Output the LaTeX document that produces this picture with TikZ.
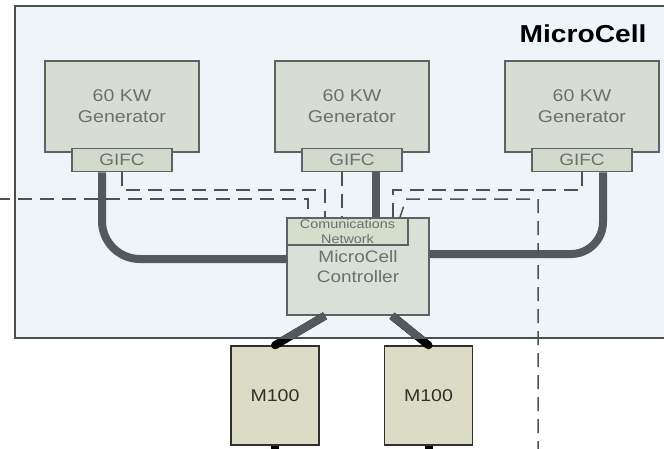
\documentclass[tikz,border=0pt]{standalone}
\usepackage{fontspec}
\setmainfont{Liberation Sans}[FakeStretch=1.15]
\usetikzlibrary{calc}
\definecolor{cellbg}{HTML}{EEF5F8}
\definecolor{cellborder}{HTML}{4A4F50}
\definecolor{genfill}{HTML}{D7DDD3}
\definecolor{genborder}{HTML}{5A6464}
\definecolor{gifcfill}{HTML}{D3DACB}
\definecolor{ctrlfill}{HTML}{D8E1D8}
\definecolor{commfill}{HTML}{D5DDCB}
\definecolor{mfill}{HTML}{DCDCC6}
\definecolor{mborder}{HTML}{2F3030}
\definecolor{cablecol}{HTML}{515A5C}
\definecolor{dashcol}{HTML}{4A5252}
\definecolor{graytext}{HTML}{6B7070}
\definecolor{darktext}{HTML}{2E3030}
\begin{document}
\begin{tikzpicture}[x=1pt,y=-1pt,
  cellbox/.style={draw=cellborder,fill=cellbg,line width=1.8pt,inner sep=0pt,anchor=north west},
  genbox/.style={draw=genborder,fill=genfill,line width=1.5pt,minimum width=154pt,minimum height=91pt,inner sep=0pt,align=center,text=graytext,font=\fontsize{17}{21}\selectfont},
  gifcbox/.style={draw=genborder,fill=gifcfill,line width=1.5pt,minimum width=100pt,minimum height=23pt,inner sep=0pt,text=graytext,font=\fontsize{16.5}{19}\selectfont},
  ctrlbox/.style={draw=genborder,fill=ctrlfill,line width=1.5pt,minimum width=142pt,minimum height=97pt,inner sep=0pt,align=center,text=graytext,font=\fontsize{16.5}{20}\selectfont},
  commbox/.style={draw=genborder,fill=commfill,line width=1.3pt,minimum width=121pt,minimum height=27pt,inner sep=0pt,align=center,text=graytext,font=\fontsize{12.5}{15}\selectfont},
  mbox/.style={draw=mborder,fill=mfill,line width=1.5pt,minimum width=88pt,minimum height=99pt,inner sep=0pt,text=darktext,font=\fontsize{17}{20}\selectfont},
  cable/.style={draw=cablecol,line width=8pt},
  mlink/.style={draw=black,line width=8pt},
  dsh/.style={draw=dashcol,line width=1.5pt,dash pattern=on 14pt off 8pt}]
\useasboundingbox (0,0) rectangle (664,448);
\clip (0,0) rectangle (664,448);
\fill[white] (0,0) rectangle (664,448);
\node[cellbox,minimum width=656pt,minimum height=332pt] (cell) at (14,5) {};
\node[anchor=base east,text=black,font=\fontsize{24.5}{28}\selectfont\bfseries] (lbl) at (650,42) {MicroCell};
% generators
\node[genbox] (g1) at (122,106.5) {60 KW\\Generator};
\node[genbox] (g2) at (352,106.5) {60 KW\\Generator};
\node[genbox] (g3) at (582,106.5) {60 KW\\Generator};
\node[gifcbox] (c1) at (122,160) {GIFC};
\node[gifcbox] (c2) at (352,160) {GIFC};
\node[gifcbox] (c3) at (582,160) {GIFC};
% controller
\node[ctrlbox] (ctrl) at (358,266.5) {MicroCell\\Controller};
\node[commbox] (comm) at (347.5,231.5) {Comunications\\Network};
% M100 units
\node[mbox] (m1) at (275,395.5) {M100};
\node[mbox] (m2) at (428.5,395.5) {M100};
\coordinate (m1out) at (275,455);
\coordinate (m2out) at (428.5,455);
\coordinate (wl) at (-4,199);
\coordinate (sb) at (538,455);
% power cables
\draw[cable,rounded corners=38pt] (c1.south -| 102,0) |- (ctrl.west |- 0,259);
\draw[cable] (c2.south -| 376,0) -- (ctrl.north -| 376,0);
\draw[cable,rounded corners=32pt] (c3.south -| 603,0) |- (ctrl.east |- 0,254);
% links to M100
\draw[mlink] (ctrl.south -| 325,0) -- (m1.north);
\draw[mlink] (ctrl.south -| 392,0) -- (m2.north);
\fill[black] (m1.north) circle[radius=4pt];
\fill[black] (m2.north) circle[radius=4pt];
\begin{scope}
  \clip (cell.north west) rectangle (cell.south east);
  \draw[mlink,draw=cablecol] (ctrl.south -| 325,0) -- (m1.north);
  \draw[mlink,draw=cablecol] (ctrl.south -| 392,0) -- (m2.north);
\end{scope}
\draw[mlink] (m1.south) -- (m1out);
\draw[mlink] (m2.south) -- (m2out);
% communication lines
\draw[dsh] (c1.south) -- (c1.south |- 0,190) -| (ctrl.north -| 325,0);
\draw[dsh] (wl) -| (ctrl.north -| 308,0);
\draw[dsh] (c2.south -| 342,0) -- (ctrl.north -| 342,0);
\draw[dsh] (c3.south) -- (c3.south |- 0,190) -| (ctrl.north -| 393,0);
\draw[dsh] (sb) -- (538,199) -- (406,199) -- (ctrl.north -| 400,0);
\end{tikzpicture}
\end{document}
